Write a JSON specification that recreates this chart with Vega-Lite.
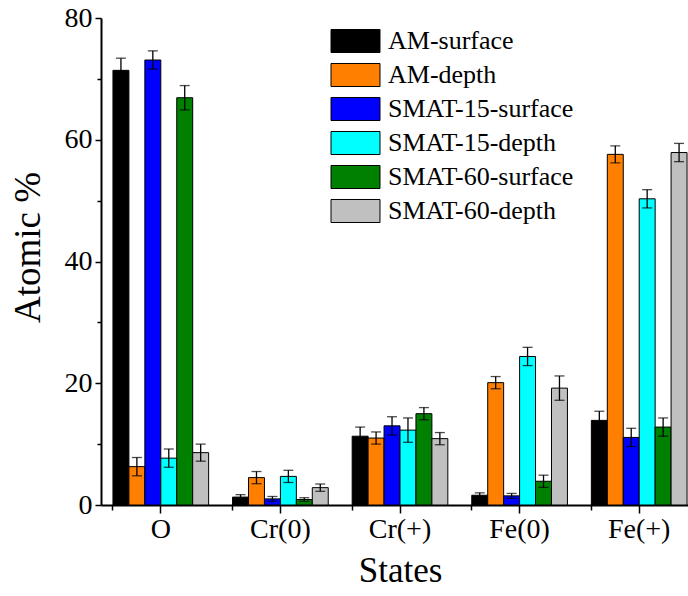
{
  "$schema": "https://vega.github.io/schema/vega-lite/v6.json",
  "autosize": "none",
  "width": 587,
  "height": 487,
  "padding": {"left": 101, "top": 18, "right": 0, "bottom": 91},
  "background": "white",
  "config": {
    "font": "Liberation Serif",
    "view": {"stroke": null},
    "axis": {"grid": false, "domainColor": "black", "domainWidth": 2, "tickColor": "black", "tickWidth": 1.5, "labelColor": "black", "titleColor": "black", "labelFont": "Liberation Serif", "titleFont": "Liberation Serif", "titleFontWeight": "normal"}
  },
  "data": {"values": [
    {"state": "O", "series": "AM-surface", "value": 71.4, "lo": 69.4, "hi": 73.4},
    {"state": "O", "series": "AM-depth", "value": 6.3, "lo": 4.8, "hi": 7.8},
    {"state": "O", "series": "SMAT-15-surface", "value": 73.1, "lo": 71.6, "hi": 74.6},
    {"state": "O", "series": "SMAT-15-depth", "value": 7.7, "lo": 6.2, "hi": 9.2},
    {"state": "O", "series": "SMAT-60-surface", "value": 66.9, "lo": 64.9, "hi": 68.9},
    {"state": "O", "series": "SMAT-60-depth", "value": 8.6, "lo": 7.2, "hi": 10.0},
    {"state": "Cr(0)", "series": "AM-surface", "value": 1.3, "lo": 0.9, "hi": 1.7},
    {"state": "Cr(0)", "series": "AM-depth", "value": 4.5, "lo": 3.5, "hi": 5.5},
    {"state": "Cr(0)", "series": "SMAT-15-surface", "value": 1.0, "lo": 0.6, "hi": 1.4},
    {"state": "Cr(0)", "series": "SMAT-15-depth", "value": 4.7, "lo": 3.7, "hi": 5.7},
    {"state": "Cr(0)", "series": "SMAT-60-surface", "value": 0.9, "lo": 0.6, "hi": 1.2},
    {"state": "Cr(0)", "series": "SMAT-60-depth", "value": 2.85, "lo": 2.25, "hi": 3.45},
    {"state": "Cr(+)", "series": "AM-surface", "value": 11.3, "lo": 9.8, "hi": 12.8},
    {"state": "Cr(+)", "series": "AM-depth", "value": 11.0, "lo": 10.0, "hi": 12.0},
    {"state": "Cr(+)", "series": "SMAT-15-surface", "value": 13.0, "lo": 11.5, "hi": 14.5},
    {"state": "Cr(+)", "series": "SMAT-15-depth", "value": 12.3, "lo": 10.3, "hi": 14.3},
    {"state": "Cr(+)", "series": "SMAT-60-surface", "value": 15.0, "lo": 14.0, "hi": 16.0},
    {"state": "Cr(+)", "series": "SMAT-60-depth", "value": 10.9, "lo": 9.9, "hi": 11.9},
    {"state": "Fe(0)", "series": "AM-surface", "value": 1.6, "lo": 1.2, "hi": 2.0},
    {"state": "Fe(0)", "series": "AM-depth", "value": 20.1, "lo": 19.1, "hi": 21.1},
    {"state": "Fe(0)", "series": "SMAT-15-surface", "value": 1.5, "lo": 1.1, "hi": 1.9},
    {"state": "Fe(0)", "series": "SMAT-15-depth", "value": 24.4, "lo": 22.9, "hi": 25.9},
    {"state": "Fe(0)", "series": "SMAT-60-surface", "value": 3.9, "lo": 2.9, "hi": 4.9},
    {"state": "Fe(0)", "series": "SMAT-60-depth", "value": 19.2, "lo": 17.2, "hi": 21.2},
    {"state": "Fe(+)", "series": "AM-surface", "value": 13.9, "lo": 12.4, "hi": 15.4},
    {"state": "Fe(+)", "series": "AM-depth", "value": 57.6, "lo": 56.2, "hi": 59.0},
    {"state": "Fe(+)", "series": "SMAT-15-surface", "value": 11.1, "lo": 9.6, "hi": 12.6},
    {"state": "Fe(+)", "series": "SMAT-15-depth", "value": 50.3, "lo": 48.8, "hi": 51.8},
    {"state": "Fe(+)", "series": "SMAT-60-surface", "value": 12.8, "lo": 11.3, "hi": 14.3},
    {"state": "Fe(+)", "series": "SMAT-60-depth", "value": 57.9, "lo": 56.4, "hi": 59.4}
  ]},
  "resolve": {"axis": {"x": "independent", "y": "independent"}},
  "layer": [
    {
      "mark": {"type": "bar", "stroke": "black", "strokeWidth": 1},
      "encoding": {
        "x": {"field": "state", "type": "nominal", "sort": ["O", "Cr(0)", "Cr(+)", "Fe(0)", "Fe(+)"],
              "scale": {"range": [0, 598], "paddingInner": 0.2, "paddingOuter": 0.1},
              "axis": {"orient": "bottom", "title": "States", "titleFont": "Liberation Serif", "titleFontSize": 35, "labelFont": "Liberation Serif", "labelFontSize": 28, "labelAngle": 0, "tickSize": 8, "labelPadding": 2, "titlePadding": 10}},
        "xOffset": {"field": "series", "type": "nominal", "sort": ["AM-surface", "AM-depth", "SMAT-15-surface", "SMAT-15-depth", "SMAT-60-surface", "SMAT-60-depth"], "scale": {"paddingInner": 0, "paddingOuter": 0}},
        "y": {"field": "value", "type": "quantitative", "scale": {"domain": [0, 80], "nice": false},
              "axis": {"orient": "left", "title": "Atomic %", "titleFont": "Liberation Serif", "titleFontSize": 37, "labelFont": "Liberation Serif", "labelFontSize": 28, "values": [0, 20, 40, 60, 80], "tickSize": 6, "labelPadding": 3, "titlePadding": 17, "titleY": 229}},
        "color": {"field": "series", "type": "nominal", "sort": ["AM-surface", "AM-depth", "SMAT-15-surface", "SMAT-15-depth", "SMAT-60-surface", "SMAT-60-depth"],
                  "scale": {"range": ["#000000", "#FF8000", "#0000FF", "#00FFFF", "#008000", "#C0C0C0"]},
                  "legend": {"title": null, "orient": "none", "legendX": 241.5, "legendY": 10, "padding": 0,
                             "symbolType": "M-2,-0.94h4v1.88h-4Z", "symbolSize": 600, "symbolStrokeColor": "black", "symbolStrokeWidth": 1, "symbolOpacity": 1,
                             "labelFont": "Liberation Serif", "labelFontSize": 26, "labelColor": "black", "labelOffset": 19.5, "rowPadding": 6, "labelLimit": 400}}
      }
    },
    {
      "mark": {"type": "rule", "color": "black", "strokeWidth": 1.3},
      "encoding": {
        "x": {"field": "state", "type": "nominal", "sort": ["O", "Cr(0)", "Cr(+)", "Fe(0)", "Fe(+)"],
              "axis": {"orient": "bottom", "title": null, "labels": false, "domain": false, "bandPosition": 0, "tickSize": 5}},
        "xOffset": {"field": "series", "type": "nominal", "sort": ["AM-surface", "AM-depth", "SMAT-15-surface", "SMAT-15-depth", "SMAT-60-surface", "SMAT-60-depth"]},
        "y": {"field": "lo", "type": "quantitative",
              "axis": {"orient": "left", "title": null, "labels": false, "domain": false, "values": [10, 30, 50, 70], "tickSize": 4}},
        "y2": {"field": "hi"}
      }
    },
    {
      "mark": {"type": "tick", "color": "black", "thickness": 1.3, "size": 10},
      "encoding": {
        "x": {"field": "state", "type": "nominal", "sort": ["O", "Cr(0)", "Cr(+)", "Fe(0)", "Fe(+)"], "axis": null},
        "xOffset": {"field": "series", "type": "nominal", "sort": ["AM-surface", "AM-depth", "SMAT-15-surface", "SMAT-15-depth", "SMAT-60-surface", "SMAT-60-depth"]},
        "y": {"field": "lo", "type": "quantitative", "axis": null}
      }
    },
    {
      "mark": {"type": "tick", "color": "black", "thickness": 1.3, "size": 10},
      "encoding": {
        "x": {"field": "state", "type": "nominal", "sort": ["O", "Cr(0)", "Cr(+)", "Fe(0)", "Fe(+)"], "axis": null},
        "xOffset": {"field": "series", "type": "nominal", "sort": ["AM-surface", "AM-depth", "SMAT-15-surface", "SMAT-15-depth", "SMAT-60-surface", "SMAT-60-depth"]},
        "y": {"field": "hi", "type": "quantitative", "axis": null}
      }
    }
  ]
}
